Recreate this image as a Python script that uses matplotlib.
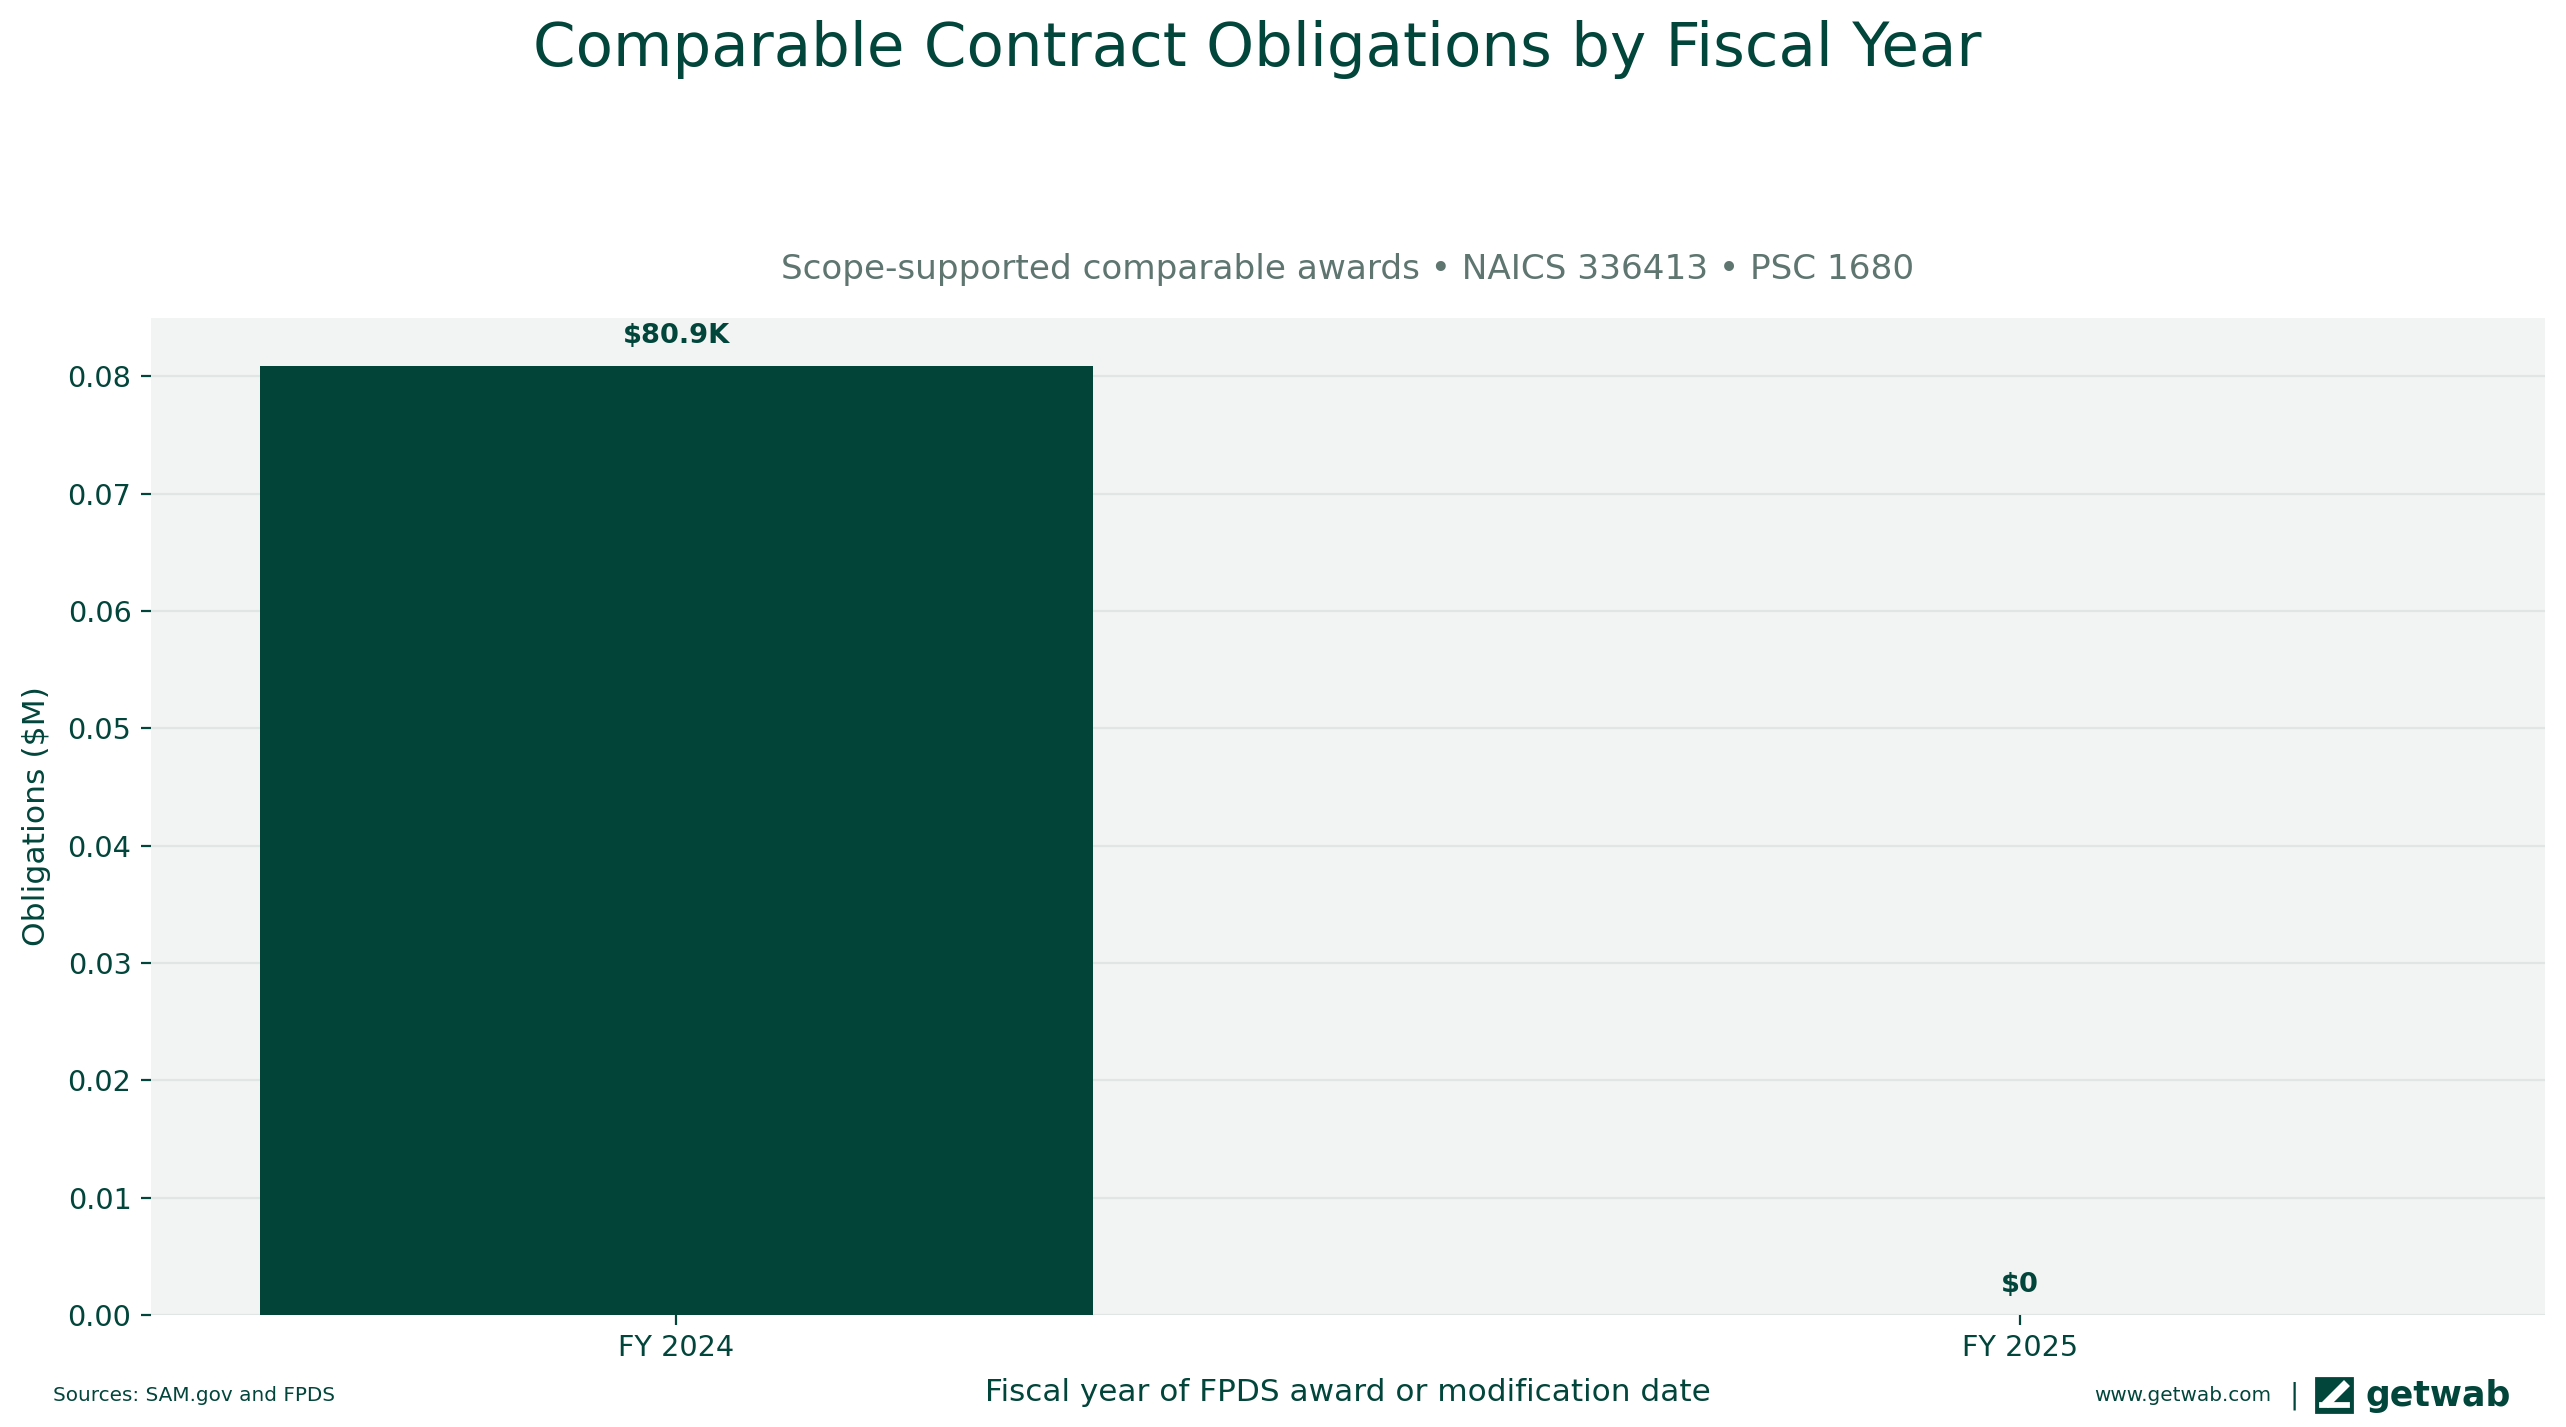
import matplotlib
matplotlib.use("Agg")
import matplotlib.pyplot as plt
from matplotlib.patches import Rectangle, Polygon

# ---- data ----
categories = ["FY 2024", "FY 2025"]
obligations_musd = [0.0809, 0.0]
bar_labels = ["$80.9K", "$0"]

title = "Comparable Contract Obligations by Fiscal Year"
subtitle = "Scope-supported comparable awards \u2022 NAICS 336413 \u2022 PSC 1680"
xlabel = "Fiscal year of FPDS award or modification date"
ylabel = "Obligations ($M)"
source = "Sources: SAM.gov and FPDS"

DARK = "#02453a"
BAR = "#024538"
SUB = "#5e7570"
BG = "#f2f4f3"
GRID = "#e0e6e3"

plt.rcParams["font.family"] = ["DejaVu Sans"]

fig = plt.figure(figsize=(12.83, 7.135), dpi=200)
ax = fig.add_axes([0.0588, 0.0785, 0.9330, 0.6990])
ax.set_facecolor(BG)

x = list(range(len(categories)))
ax.bar(x, obligations_musd, width=0.62, color=BAR, zorder=3)
for xi, v, lab in zip(x, obligations_musd, bar_labels):
    ax.annotate(lab, (xi, v), xytext=(0, 6), textcoords="offset points",
                ha="center", va="bottom", fontsize=9.8, fontweight="bold", color=DARK)

ax.set_xticks(x)
ax.set_xticklabels(categories)
ax.set_ylim(0, 0.085)
ax.set_yticks([0, 0.01, 0.02, 0.03, 0.04, 0.05, 0.06, 0.07, 0.08])
ax.yaxis.set_major_formatter(matplotlib.ticker.FormatStrFormatter("%.2f"))
ax.tick_params(axis="both", colors=DARK, labelsize=10.3, labelcolor=DARK)
ax.grid(axis="y", color=GRID, linewidth=0.8, zorder=0)
ax.set_axisbelow(True)
for s in ax.spines.values():
    s.set_visible(False)

ax.set_ylabel(ylabel, fontsize=11.3, color=DARK, labelpad=6)
ax.set_xlabel(xlabel, fontsize=11.2, color=DARK, labelpad=5.5)
ax.set_title(subtitle, fontsize=12.35, color=SUB, pad=14)

fig.text(0.490, 0.965, title, ha="center", va="center", fontsize=22, color=DARK)

# footer
fig.text(0.0205, 0.022, source, ha="left", va="center", fontsize=7.2, color=DARK)
fig.text(0.885, 0.022, "www.getwab.com", ha="right", va="center", fontsize=7.2, color=DARK)
fig.text(0.894, 0.022, "|", ha="center", va="center", fontsize=10, color=DARK)

# logo icon
W, H = 2566, 1427
def fx(px): return px / W
def fy(py): return 1 - py / H
ix0, iy0 = 2316, 1378
iw, ih = 36, 34
fig.patches.append(Rectangle((fx(ix0), fy(iy0 + ih)), fx(iw), ih / H,
                             transform=fig.transFigure, color=DARK, zorder=5))
fig.patches.append(Polygon([(fx(ix0 + 8), fy(iy0 + 24)), (fx(ix0 + 28), fy(iy0 + 4)),
                            (fx(ix0 + 32), fy(iy0 + 8)), (fx(ix0 + 12), fy(iy0 + 28))],
                           closed=True, transform=fig.transFigure, color="white", zorder=6))
fig.patches.append(Rectangle((fx(ix0 + 4), fy(iy0 + 28)), fx(28), 3 / H,
                             transform=fig.transFigure, color="white", zorder=6))
fig.text(0.922, 0.022, "getwab", ha="left", va="center", fontsize=12.5, color=DARK,
         fontweight="bold", family="DejaVu Sans")

fig.savefig("out.png", dpi=200)
